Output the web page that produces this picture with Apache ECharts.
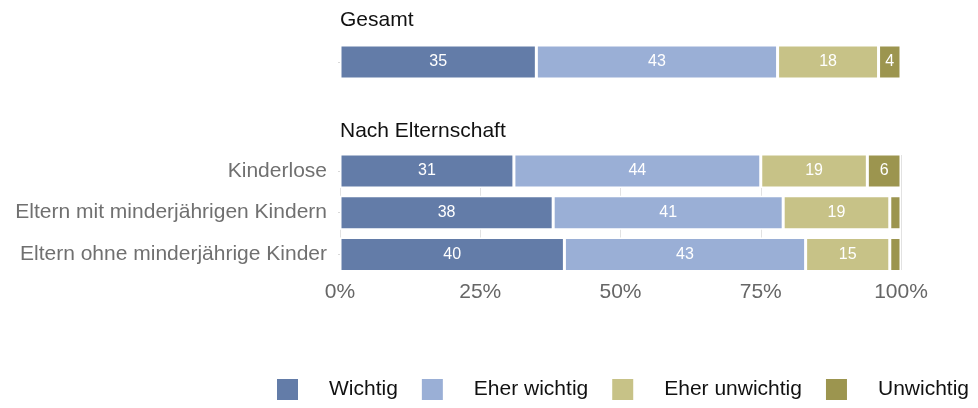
<!DOCTYPE html>
<html>
<head>
<meta charset="utf-8">
<script src="https://cdn.jsdelivr.net/npm/echarts@6/dist/echarts.min.js"></script>
<style>
  html, body { margin: 0; padding: 0; background: #fff; }
  #chart { width: 978px; height: 408px; }
</style>
</head>
<body>
<div id="chart"></div>
<script>
// Antwortkategorien und Farben
const responses = ['Wichtig', 'Eher wichtig', 'Eher unwichtig', 'Unwichtig'];
const colors = ['#637ca8', '#9aafd6', '#c7c287', '#9c954f'];

// Gesamt (Prozent)
const gesamt = [35, 43, 18, 4];

// Nach Elternschaft (Prozent)
const groups = ['Kinderlose', 'Eltern mit minderjährigen Kindern', 'Eltern ohne minderjährige Kinder'];
const wichtig = [31, 38, 40];
const eherWichtig = [44, 41, 43];
const eherUnwichtig = [19, 19, 15];
const unwichtig = [6, 2, 2];

const tickLabels = ['0%', '25%', '50%', '75%', '100%'];

const font = '"Liberation Sans", Arial, Helvetica, sans-serif';
const groupValues = [wichtig, eherWichtig, eherUnwichtig, unwichtig];

function segmentLabel() {
  return {
    show: true,
    position: 'inside',
    color: '#ffffff',
    fontSize: 16,
    fontFamily: font,
    formatter: p => (p.value >= 3 ? String(p.value) : '')
  };
}

const series = [];
responses.forEach((name, i) => {
  series.push({
    name: name,
    type: 'bar',
    stack: 'gesamt',
    xAxisIndex: 0,
    yAxisIndex: 0,
    barWidth: 34,
    itemStyle: { color: colors[i], borderColor: '#ffffff', borderWidth: 1.5 },
    label: segmentLabel(),
    data: [gesamt[i]],
    z: 3
  });
  series.push({
    name: name,
    type: 'bar',
    stack: 'eltern',
    xAxisIndex: 1,
    yAxisIndex: 1,
    barWidth: 34,
    itemStyle: { color: colors[i], borderColor: '#ffffff', borderWidth: 1.5 },
    label: segmentLabel(),
    data: groupValues[i],
    z: 3
  });
});

const pitch = 41.7;
const chart = echarts.init(document.getElementById('chart'), null, { renderer: 'canvas' });
chart.setOption({
  animation: false,
  backgroundColor: '#ffffff',
  title: [
    { text: 'Gesamt', left: 340, top: 10, padding: 0,
      textStyle: { fontFamily: font, fontSize: 21, fontWeight: 'normal', color: '#111', lineHeight: 21 } },
    { text: 'Nach Elternschaft', left: 340, top: 121, padding: 0,
      textStyle: { fontFamily: font, fontSize: 21, fontWeight: 'normal', color: '#111', lineHeight: 21 } }
  ],
  legend: {
    data: responses,
    left: 275,
    top: 377,
    padding: 0,
    icon: 'rect',
    itemWidth: 23,
    itemHeight: 23,
    itemGap: 22,
    selectedMode: false,
    textStyle: { fontFamily: font, fontSize: 21, color: '#111', padding: [0, 0, 0, 25] }
  },
  grid: [
    { left: 340, right: 77, top: 62 - pitch / 2, height: pitch, containLabel: false },
    { left: 340, right: 77, top: 171 - pitch / 2, height: pitch * 3, containLabel: false },
    { left: 340, right: 77, top: 155, height: 115, containLabel: false }
  ],
  xAxis: [
    { gridIndex: 0, type: 'value', min: 0, max: 100, interval: 25,
      axisLine: { show: false }, axisTick: { show: false }, axisLabel: { show: false }, splitLine: { show: false } },
    { gridIndex: 1, type: 'value', min: 0, max: 100, interval: 25,
      axisLine: { show: false }, axisTick: { show: false }, splitLine: { show: false },
      axisLabel: { show: true, margin: 6, fontFamily: font, fontSize: 21, color: '#666',
        formatter: v => tickLabels[Math.round(v / 25)] } },
    { gridIndex: 2, type: 'value', min: 0, max: 100, interval: 25,
      axisLine: { show: false }, axisTick: { show: false }, axisLabel: { show: false },
      splitLine: { show: true, lineStyle: { color: '#e2e2e2', width: 1 } } }
  ],
  yAxis: [
    { gridIndex: 0, type: 'category', data: ['Gesamt'], inverse: true,
      axisLine: { show: false }, axisLabel: { show: false },
      axisTick: { show: true, alignWithLabel: true, length: 2, lineStyle: { color: '#d9d9d9' } } },
    { gridIndex: 1, type: 'category', data: groups, inverse: true,
      axisLine: { show: false },
      axisTick: { show: true, alignWithLabel: true, length: 2, lineStyle: { color: '#d9d9d9' } },
      axisLabel: { margin: 13, fontFamily: font, fontSize: 21, color: '#707070' } },
    { gridIndex: 2, type: 'value', show: false }
  ],
  series: series
});
</script>
</body>
</html>
